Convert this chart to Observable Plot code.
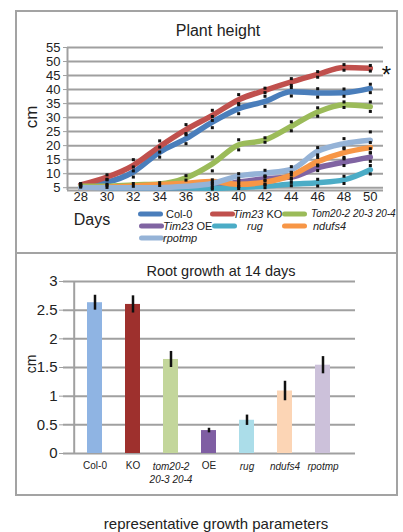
<!DOCTYPE html>
<html><head><meta charset="utf-8">
<script src="https://cdn.jsdelivr.net/npm/d3@7"></script>
<script src="https://cdn.jsdelivr.net/npm/@observablehq/plot@0.6"></script>
<style>
html,body{margin:0;padding:0;background:#fff;}
body{font-family:"Liberation Sans",Arial,Helvetica,sans-serif;color:#222;}
#wrap{position:relative;width:403px;height:532px;overflow:hidden;background:#fff;}
#wrap svg{position:absolute;left:0;background:transparent;}
.box{position:absolute;border:2px solid #a3a3a3;box-sizing:border-box;pointer-events:none;}
.hl{position:absolute;background:#a3a3a3;height:2px;}
.t{position:absolute;white-space:nowrap;color:#222;line-height:1;}
.c{transform:translate(-50%,-50%);}
.l{transform:translate(0,-50%);}
.sw{position:absolute;height:5px;border-radius:3px;transform:translate(0,-50%);}
</style></head><body><div id="wrap"></div>
<script>
// ---------- data ----------
const days = [28, 30, 32, 34, 36, 38, 40, 42, 44, 46, 48, 50];
const seriesNames = ["Col-0", "Tim23 KO", "Tom20-2 20-3 20-4", "Tim23 OE", "rug", "ndufs4", "rpotmp"];
const col0     = [6, 7, 10.6, 17.7, 22.5, 28.4, 33.2, 35.8, 39.2, 38.8, 38.9, 40.4];
const tim23KO  = [6, 8.8, 13, 19.7, 25.7, 30.8, 36.4, 39.7, 42.7, 45.4, 47.9, 47.6];
const tom20    = [5.5, 5.5, 6, 6.3, 8.5, 13.5, 20.3, 22, 26.9, 32, 34.6, 33.9];
const tim23OE  = [5, 5, 5, 5, 5, 5.2, 7, 8.2, 8.8, 12.1, 14.1, 15.9];
const rug      = [5, 5, 5, 5, 5, 4.8, 5.1, 5.5, 6.3, 6.8, 7.8, 11.4];
const ndufs4   = [5, 5.2, 5.6, 6.1, 6.6, 7.2, 6.2, 7, 9.4, 14.3, 17.5, 19.3];
const rpotmp   = [5, 5, 5, 5, 5.5, 6.5, 9.2, 10.2, 11.5, 18, 20.7, 21.9];
// error-bar half widths (cm)
const col0Err    = [0.4, 0.8, 1.8, 1.8, 1.8, 2, 1.8, 1.8, 1.5, 1.5, 1.3, 1.5];
const tim23KOErr = [0.4, 0.8, 2, 2, 1.8, 1.8, 1.8, 0.8, 1.2, 1, 1, 1];
const tom20Err   = [0.3, 0.4, 0.5, 0.5, 0.8, 2.5, 1.8, 0.8, 1.6, 1.5, 1, 1.7];
const tim23OEErr = [0, 0, 0, 0, 0, 0, 0.6, 0.8, 0.8, 1, 1.2, 1.5];
const rugErr     = [0, 0, 0, 0, 0, 0.3, 0.4, 0.5, 0.6, 1.2, 1.3, 1.5];
const ndufs4Err  = [0, 0, 0, 0, 0, 0.6, 0.8, 0.8, 1, 1.5, 1.7, 1.8];
const rpotmpErr  = [0, 0, 0, 0, 0, 0.6, 0.8, 1, 1, 1.3, 1.8, 3];
const lineColors = ["#4a7ebb", "#c0504d", "#9bbb59", "#8064a2", "#4bacc6", "#f79646", "#95b3d7"];
const yTicksTop = [5, 10, 15, 20, 25, 30, 35, 40, 45, 50, 55];

const rootCats  = ["Col-0", "KO", "tom20-2\n20-3 20-4", "OE", "rug", "ndufs4", "rpotmp"];
const rootVals  = [2.63, 2.6, 1.64, 0.4, 0.58, 1.09, 1.54];
const rootErr   = [0.13, 0.15, 0.14, 0.04, 0.09, 0.17, 0.15];
const rootItalic = [false, false, true, false, true, true, true];
const barColors = ["#8fb4e3", "#9e302d", "#c3d69b", "#7f5ea3", "#abdde9", "#fcd5b5", "#ccc1da"];
const yTicksRoot = [0, 0.5, 1, 1.5, 2, 2.5, 3];

// ---------- build tables ----------
const vals = [col0, tim23KO, tom20, tim23OE, rug, ndufs4, rpotmp];
const errs = [col0Err, tim23KOErr, tom20Err, tim23OEErr, rugErr, ndufs4Err, rpotmpErr];
const heightData = seriesNames.flatMap((s, i) => days.map((d, j) => ({series: s, day: d, v: vals[i][j], e: errs[i][j]})));
const capData = heightData.filter(d => d.e > 0).flatMap(d => [{day: d.day, y: d.v + d.e}, {day: d.day, y: d.v - d.e}]);
const rootData = rootCats.map((c, i) => ({cat: c, v: rootVals[i], e: rootErr[i], it: rootItalic[i]}));

const FONT = '"Liberation Sans", Arial, Helvetica, sans-serif';
const GRID = "#a0a0a0";
const wrap = document.getElementById("wrap");

// ---------- top chart: plant height ----------
const topPlot = Plot.plot({
  width: 403, height: 210,
  marginLeft: 67, marginRight: 20, marginTop: 47, marginBottom: 20,
  style: {fontFamily: FONT, fontSize: "13px", color: "#222", background: "transparent"},
  x: {domain: [27, 51], axis: null},
  y: {domain: [4, 55], axis: null},
  color: {domain: seriesNames, range: lineColors},
  marks: [
    Plot.ruleY(yTicksTop, {stroke: GRID, strokeWidth: 2}),
    Plot.ruleY([4], {stroke: GRID, strokeWidth: 2}),
    Plot.ruleX([27], {stroke: GRID, strokeWidth: 2}),
    Plot.axisY({ticks: yTicksTop, tickSize: 4, tickPadding: 3, stroke: GRID, fill: "#222", fontSize: 13, label: null}),
    Plot.axisX({ticks: days, tickSize: 0, tickPadding: 1, fill: "#222", fontSize: 13, label: null}),
    Plot.line(heightData, {x: "day", y: "v", z: "series", stroke: "series", strokeWidth: 5.5, curve: "monotone-x", strokeLinecap: "round", strokeLinejoin: "round"}),
    Plot.dot(capData, {x: "day", y: "y", symbol: "square", r: 1.7, fill: "#111", stroke: "none"}),
    Plot.text([{day: 50, v: 47.7}], {x: "day", y: "v", text: () => "*", dx: 16, dy: 7, fontSize: 24, fill: "#111"})
  ]
});
topPlot.style.top = "0px";
wrap.appendChild(topPlot);

// ---------- bottom chart: root growth ----------
const bottomPlot = Plot.plot({
  width: 403, height: 240,
  marginLeft: 63, marginRight: 48, marginTop: 28, marginBottom: 40,
  style: {fontFamily: FONT, fontSize: "15px", color: "#222", background: "transparent"},
  x: {domain: rootCats, padding: 0.6, axis: null},
  y: {domain: [0, 3], axis: null},
  color: {domain: rootCats, range: barColors},
  marks: [
    Plot.ruleY(yTicksRoot, {stroke: GRID, strokeWidth: 2}),
    Plot.ruleX([0], {x: () => rootCats[0], y1: 0, y2: 3, dx: -20.8, stroke: GRID, strokeWidth: 2}),
    Plot.axisY({ticks: yTicksRoot, tickSize: 4, tickPadding: 2, stroke: GRID, fill: "#222", fontSize: 15, label: null, tickFormat: d => String(d)}),
    Plot.barY(rootData, {x: "cat", y: "v", fill: "cat"}),
    Plot.ruleX(rootData, {x: "cat", y1: d => d.v - d.e, y2: d => d.v + d.e, stroke: "#111", strokeWidth: 2.5}),
    Plot.text(rootData.filter(d => !d.it), {x: "cat", frameAnchor: "bottom", lineAnchor: "top", dy: 8, text: "cat", fontSize: 10, fill: "#222"}),
    Plot.text(rootData.filter(d => d.it), {x: "cat", frameAnchor: "bottom", lineAnchor: "top", dy: 8, text: "cat", fontSize: 10, fontStyle: "italic", fill: "#222", lineHeight: 1.25})
  ]
});
bottomPlot.style.top = "253px";
wrap.appendChild(bottomPlot);

// ---------- html text, legend, frames ----------
function addText(html, x, y, cls, style) {
  const d = document.createElement("div");
  d.className = "t " + cls;
  d.style.left = x + "px"; d.style.top = y + "px";
  Object.assign(d.style, style || {});
  d.innerHTML = html;
  wrap.appendChild(d);
  return d;
}
addText("Plant height", 218, 31, "c", {fontSize: "16px"});
addText("cm", 31, 117, "", {fontSize: "17px", transform: "translate(-50%,-50%) rotate(-90deg)"});
addText("Days", 92, 220, "c", {fontSize: "16px"});
addText("Root growth at 14 days", 221, 271, "c", {fontSize: "14.5px"});
addText("cm", 31, 364, "", {fontSize: "14px", transform: "translate(-50%,-50%) rotate(-90deg)"});
addText("representative growth parameters", 216, 523, "c", {fontSize: "15px"});

const legendItems = [
  {i: 0, sx: 138, tx: 166, y: 214, html: "Col-0", fs: 11},
  {i: 1, sx: 210, tx: 233, y: 214, html: "<i>Tim23</i> KO", fs: 11},
  {i: 2, sx: 282, tx: 311, y: 214, html: "<i>Tom20-2 20-3 20-4</i>", fs: 10},
  {i: 3, sx: 139, tx: 163, y: 226, html: "<i>Tim23</i> OE", fs: 11},
  {i: 4, sx: 212, tx: 247, y: 226, html: "<i>rug</i>", fs: 11},
  {i: 5, sx: 282, tx: 313, y: 226, html: "<i>ndufs4</i>", fs: 11},
  {i: 6, sx: 139, tx: 163, y: 237.5, html: "<i>rpotmp</i>", fs: 11}
];
legendItems.forEach(it => {
  const s = document.createElement("div");
  s.className = "sw";
  s.style.left = it.sx + "px"; s.style.top = it.y + "px"; s.style.width = "25px";
  s.style.background = lineColors[it.i];
  wrap.appendChild(s);
  addText(it.html, it.tx, it.y, "l", {fontSize: it.fs + "px"});
});

const box = document.createElement("div");
box.className = "box";
Object.assign(box.style, {left: "15px", top: "10px", width: "383px", height: "486px"});
wrap.appendChild(box);
const hl = document.createElement("div");
hl.className = "hl";
Object.assign(hl.style, {left: "15px", top: "252px", width: "383px"});
wrap.appendChild(hl);
</script></body></html>
